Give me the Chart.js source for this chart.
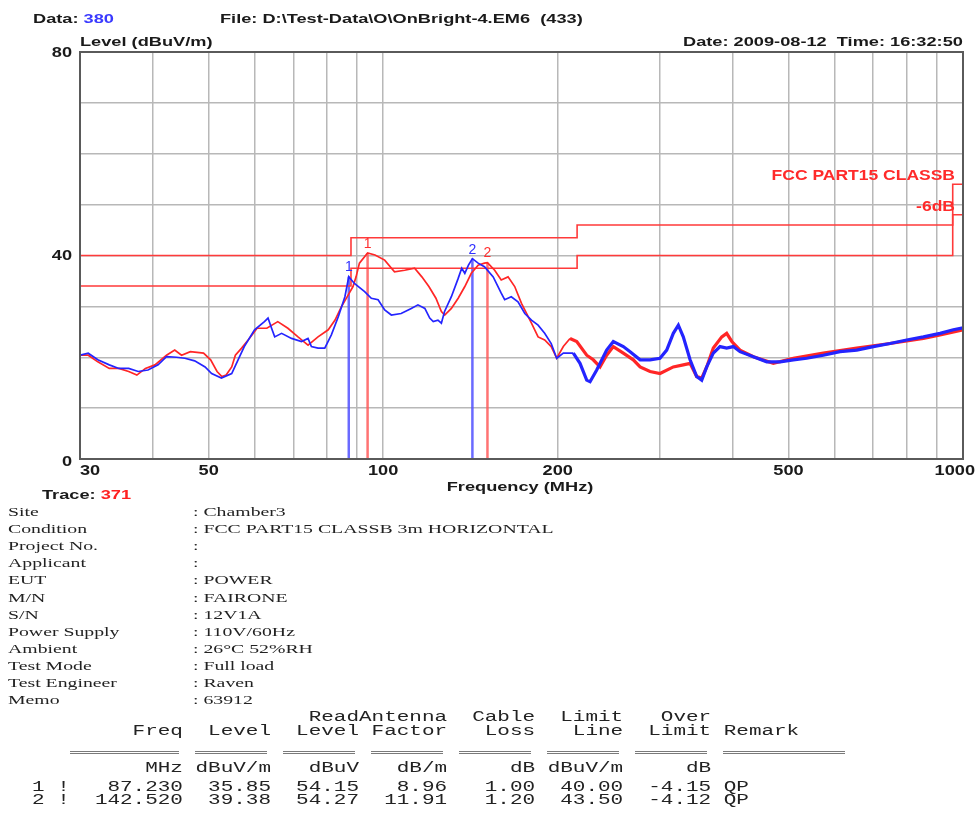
<!DOCTYPE html>
<html><head><meta charset="utf-8">
<script src="https://cdn.jsdelivr.net/npm/chart.js@4.4.1/dist/chart.umd.min.js"></script>
<style>
html,body{margin:0;padding:0;background:#fff;}
#page{position:relative;width:978px;height:813px;overflow:hidden;background:#fff;}
#cw{position:absolute;left:0;top:0;width:978px;height:813px;}
.t{position:absolute;white-space:pre;line-height:16px;height:16px;}
.hb{font:bold 13px "Liberation Sans",Arial,sans-serif;color:#1a1a1a;transform:scaleX(1.4);transform-origin:left center;}
.hr{font:bold 13px "Liberation Sans",Arial,sans-serif;color:#1a1a1a;transform:scaleX(1.4);transform-origin:right center;}
.hc{font:bold 13px "Liberation Sans",Arial,sans-serif;color:#1a1a1a;transform:translateX(-50%) scaleX(1.4);transform-origin:center center;}
.sf{font:13px "Liberation Serif","Times New Roman",serif;color:#222;transform:scaleX(1.52);transform-origin:left center;}
.mn{font:14px "Liberation Mono","Courier New",monospace;color:#222;transform:scaleX(1.497);transform-origin:left center;}
.ul{position:absolute;height:1px;border-top:1px solid #7a7a7a;border-bottom:1px solid #7a7a7a;}
</style></head>
<body>
<div id="page">
  <div id="cw"><canvas id="c"></canvas></div>
  <div class="t hb" style="left:33px;top:11px">Data: <span style="color:#3a3aff">380</span></div>
  <div class="t hb" style="left:220px;top:11px">File: D:\Test-Data\O\OnBright-4.EM6  (433)</div>
  <div class="t hb" style="left:80px;top:34px">Level (dBuV/m)</div>
  <div class="t hr" style="right:15px;top:34px">Date: 2009-08-12  Time: 16:32:50</div>
  <div class="t hc" style="left:520px;top:479px">Frequency (MHz)</div>
  <div class="t hb" style="left:42px;top:487px">Trace: <span style="color:#ff2020">371</span></div>
  <div id="info"></div>
  <div id="tbl"></div>
</div>
<script>
// ---- chart data ----
const xTickLabels = [30, 50, 100, 200, 500, 1000];
const yTickLabels = [0, 40, 80];
const gridFreqs = [30, 40, 50, 60, 70, 80, 90, 100, 200, 300, 400, 500, 600, 700, 800, 900, 1000];

const redFreq = [30.0, 31.0, 32.2, 33.7, 35.0, 36.4, 37.6, 38.9, 40.4, 42.3, 43.7, 44.9, 46.5, 49.0, 50.4, 51.7, 52.7, 53.6, 54.8, 55.6,
  57.0, 58.5, 60.6, 63.0, 65.8, 68.5, 71.3, 74.2, 77.2, 80.4, 82.6, 84.7, 87.0, 88.7, 89.8, 91.0, 94.0, 96.8, 100.6, 104.6,
  108.9, 113.3, 116.6, 119.9, 123.3, 126.0, 127.7, 131.1, 134.7, 138.3, 141.9, 145.8, 149.5, 151.3, 155.7, 159.8, 164.2, 168.6, 173.2, 180.2,
  185.0, 189.9, 194.9, 199.2, 204.5, 210.0, 215.7, 224.4, 230.3, 236.6, 242.9, 249.4, 259.5, 270.0, 277.4, 288.6, 300.2, 316.5, 329.3, 338.3,
  347.3, 354.3, 361.4, 371.0, 383.7, 391.2, 399.3, 412.5, 435.0, 470.9, 509.8, 574.2, 655.7, 748.4, 854.5, 912.9, 1000];
const redLevel = [20.4, 20.4, 19.1, 17.8, 17.8, 17.2, 16.5, 17.8, 18.5, 20.4, 21.4, 20.4, 21.1, 20.8, 19.5, 17.2, 16.2, 16.5, 18.1, 20.4,
  21.8, 23.4, 25.7, 25.7, 27.0, 25.7, 24.0, 22.4, 24.0, 25.4, 27.3, 29.9, 32.2, 33.9, 35.8, 38.5, 40.5, 40.1, 39.1, 36.8,
  37.1, 37.5, 35.8, 33.9, 31.6, 29.0, 28.3, 29.6, 31.6, 33.9, 36.5, 38.1, 38.5, 38.6, 37.1, 35.2, 35.8, 33.9, 30.6, 26.7,
  24.0, 23.4, 22.1, 19.8, 22.1, 23.7, 23.1, 20.4, 19.5, 18.1, 20.4, 22.1, 20.8, 19.5, 18.1, 17.2, 16.8, 18.1, 18.5, 18.8,
  16.2, 15.9, 18.1, 21.8, 24.0, 24.7, 23.1, 21.4, 20.1, 18.8, 19.8, 20.8, 21.8, 22.7, 23.7, 24.4, 25.4];

const blueFreq = [30.0, 31.0, 32.2, 33.7, 35.0, 36.4, 37.8, 39.3, 40.9, 42.3, 44.0, 45.5, 47.3, 49.3, 50.6, 52.6, 54.8, 56.2, 57.6, 60.0,
  62.4, 63.3, 64.2, 65.0, 66.8, 69.5, 72.3, 74.2, 75.2, 77.2, 79.3, 81.4, 83.7, 85.9, 87.23, 89.2, 92.9, 95.4, 98.0, 100.6,
  103.3, 107.4, 111.8, 114.8, 118.0, 120.3, 122.0, 124.3, 126.0, 127.6, 131.1, 134.7, 136.6, 138.3, 140.3, 142.52, 145.8, 149.5, 154.8, 159.8,
  162.0, 166.3, 170.8, 175.5, 180.2, 185.0, 189.9, 194.9, 199.2, 204.5, 212.8, 218.5, 224.4, 227.4, 233.5, 242.9, 249.4, 259.5, 266.6, 277.4,
  288.6, 300.2, 308.3, 316.5, 322.9, 329.3, 338.3, 347.3, 354.3, 361.4, 371.0, 381.0, 391.2, 401.7, 412.5, 435.0, 458.7, 483.6, 509.8, 537.6,
  574.2, 613.7, 655.7, 700.5, 748.4, 799.8, 854.5, 912.9, 962.4, 1000];
const blueLevel = [20.4, 20.8, 19.5, 18.5, 17.8, 17.8, 17.2, 17.5, 18.5, 20.1, 20.0, 19.8, 19.3, 18.1, 16.8, 15.9, 16.8, 19.5, 22.1, 25.4,
  27.0, 27.7, 25.7, 24.0, 24.7, 23.7, 23.1, 23.7, 22.1, 21.8, 21.8, 24.4, 28.0, 31.9, 35.85, 34.5, 32.9, 31.6, 31.3, 29.3,
  28.3, 28.6, 29.6, 30.3, 29.6, 27.7, 27.0, 27.3, 26.7, 29.0, 31.9, 35.5, 37.5, 36.5, 38.1, 39.38, 38.5, 37.8, 35.8, 32.6,
  31.3, 31.9, 30.9, 28.6, 27.3, 26.3, 24.7, 22.7, 19.8, 20.8, 20.8, 18.8, 15.5, 15.2, 17.5, 21.4, 23.1, 22.1, 21.1, 19.5,
  19.5, 19.8, 21.4, 24.7, 26.3, 24.0, 19.5, 16.2, 15.5, 18.1, 20.8, 22.1, 21.8, 22.1, 21.1, 20.1, 19.1, 19.1, 19.5, 19.8,
  20.4, 21.1, 21.4, 22.1, 22.7, 23.4, 24.0, 24.7, 25.4, 25.8];

const limitFreq = [30, 88, 88, 216, 216, 960, 960, 1000];
const limitLevel = [40, 40, 43.5, 43.5, 46, 46, 54, 54];
const marginLevel = [34, 34, 37.5, 37.5, 40, 40, 48, 48];

const blueMarkerFreq = [87.23, 142.52];
const blueMarkerLevel = [35.85, 39.38];
const redMarkerFreq = [94.0, 151.3];
const redMarkerLevel = [40.5, 38.6];
const markerNames = ["1", "2"];

// ---- report text data ----
const infoLabels = ["Site", "Condition", "Project No.", "Applicant", "EUT", "M/N", "S/N", "Power Supply", "Ambient", "Test Mode", "Test Engineer", "Memo"];
const infoValues = ["Chamber3", "FCC PART15 CLASSB 3m HORIZONTAL", "", "", "POWER", "FAIRONE", "12V1A", "110V/60Hz", "26\u00B0C 52%RH", "Full load", "Raven", "63912"];
const tblReadLevel = [54.15, 54.27];
const tblAntFactor = [8.96, 11.91];
const tblCableLoss = [1.00, 1.20];
const tblLimitLine = [40.00, 43.50];
const tblOverLimit = [-4.15, -4.12];
const tblRemark = ["QP", "QP"];

// ---- build report text ----
(function () {
  const info = document.getElementById('info');
  infoLabels.forEach((lab, i) => {
    const cy = 512 + i * 17.1;
    const a = document.createElement('div');
    a.className = 't sf'; a.style.left = '8px'; a.style.top = (cy - 8) + 'px'; a.textContent = lab;
    const b = document.createElement('div');
    b.className = 't sf'; b.style.left = '193px'; b.style.top = (cy - 8) + 'px';
    b.textContent = ':' + (infoValues[i] ? ' ' + infoValues[i] : '');
    info.appendChild(a); info.appendChild(b);
  });
  const tbl = document.getElementById('tbl');
  const x0 = 31.8, cw = 12.57;
  const pad = (s, n) => String(s).padStart(n, ' ');
  const lines = [
    [717, "                      ReadAntenna  Cable  Limit   Over"],
    [731, "        Freq  Level  Level Factor   Loss   Line  Limit Remark"],
    [768, "         MHz dBuV/m   dBuV   dB/m     dB dBuV/m     dB"]
  ];
  blueMarkerFreq.forEach((f, i) => {
    const s = markerNames[i] + ' !' + pad(f.toFixed(3), 9) + pad(blueMarkerLevel[i].toFixed(2), 7) +
      pad(tblReadLevel[i].toFixed(2), 7) + pad(tblAntFactor[i].toFixed(2), 7) + pad(tblCableLoss[i].toFixed(2), 7) +
      pad(tblLimitLine[i].toFixed(2), 7) + pad(tblOverLimit[i].toFixed(2), 7) + ' ' + tblRemark[i];
    lines.push([787 + i * 13, s]);
  });
  lines.forEach(([cy, s]) => {
    const d = document.createElement('div');
    d.className = 't mn'; d.style.left = x0 + 'px'; d.style.top = (cy - 8) + 'px'; d.textContent = s;
    tbl.appendChild(d);
  });
  const segs = [[3, 12], [13, 19], [20, 26], [27, 33], [34, 40], [41, 47], [48, 54], [55, 65]];
  segs.forEach(([a, b]) => {
    const d = document.createElement('div');
    d.className = 'ul';
    d.style.left = (x0 + a * cw) + 'px';
    d.style.width = ((b - a) * cw - 4) + 'px';
    d.style.top = '751px';
    tbl.appendChild(d);
  });
})();

// ---- chart ----
const pts = (xs, ys) => xs.map((x, i) => ({ x: x, y: ys[i] }));
const RED = '#ff2626', BLUE = '#2424ff', LIM = '#ff3a3a';

const markerSets = [];
blueMarkerFreq.forEach((f, i) => markerSets.push({
  data: [{ x: f, y: 0 }, { x: f, y: blueMarkerLevel[i] }], borderColor: 'rgba(80,80,255,0.85)', borderWidth: 2.5
}));
redMarkerFreq.forEach((f, i) => markerSets.push({
  data: [{ x: f, y: 0 }, { x: f, y: redMarkerLevel[i] }], borderColor: 'rgba(255,90,90,0.85)', borderWidth: 2.5
}));

const overlay = {
  id: 'overlay',
  afterDraw(chart) {
    const { ctx, chartArea: a, scales: { x, y } } = chart;
    ctx.save();
    ctx.strokeStyle = '#5a5a5a'; ctx.lineWidth = 2;
    ctx.strokeRect(a.left, a.top, a.right - a.left, a.bottom - a.top);

    const sx = 1.3;
    ctx.fillStyle = '#1a1a1a';
    ctx.font = 'bold 14px "Liberation Sans", Arial, sans-serif';
    ctx.textBaseline = 'middle';
    xTickLabels.forEach(v => {
      const s = String(v);
      const px = x.getPixelForValue(v);
      const w = ctx.measureText(s).width * sx;
      let left = px - w / 2;
      left = Math.max(a.left, Math.min(chart.width - 3 - w, left));
      ctx.save(); ctx.translate(left, a.bottom + 12); ctx.scale(sx, 1);
      ctx.textAlign = 'left'; ctx.fillText(s, 0, 0); ctx.restore();
    });
    yTickLabels.forEach(v => {
      const py = y.getPixelForValue(v) + (v === 0 ? 3 : 1);
      ctx.save(); ctx.translate(a.left - 8, py); ctx.scale(sx, 1);
      ctx.textAlign = 'right'; ctx.fillText(String(v), 0, 0); ctx.restore();
    });

    // marker numbers
    ctx.font = '14px "Liberation Sans", Arial, sans-serif';
    ctx.textAlign = 'center'; ctx.textBaseline = 'bottom';
    blueMarkerFreq.forEach((f, i) => {
      ctx.fillStyle = '#3030ff';
      ctx.fillText(markerNames[i], x.getPixelForValue(f), y.getPixelForValue(blueMarkerLevel[i]) - 2);
    });
    redMarkerFreq.forEach((f, i) => {
      ctx.fillStyle = '#ff3030';
      ctx.fillText(markerNames[i], x.getPixelForValue(f), y.getPixelForValue(redMarkerLevel[i]) - 2);
    });

    // limit labels
    ctx.fillStyle = '#ff2a2a';
    ctx.font = 'bold 14px "Liberation Sans", Arial, sans-serif';
    ctx.textBaseline = 'bottom';
    const rx = a.right - 8;
    [[ 'FCC PART15 CLASSB', limitLevel[limitLevel.length - 1] ], [ '-6dB', marginLevel[marginLevel.length - 1] ]].forEach(([s, lv]) => {
      ctx.save(); ctx.translate(rx, y.getPixelForValue(lv) - 1); ctx.scale(1.25, 1);
      ctx.textAlign = 'right'; ctx.fillText(s, 0, 0); ctx.restore();
    });
    ctx.restore();
  }
};

new Chart(document.getElementById('c'), {
  type: 'line',
  data: {
    datasets: [
      { data: pts(blueFreq, blueLevel), borderColor: BLUE, borderWidth: 1.7,
        segment: { borderWidth: c => (c.p0.parsed.x >= 210 ? 3.2 : 1.7) } },
      { data: pts(redFreq, redLevel), borderColor: RED, borderWidth: 1.7,
        segment: { borderWidth: c => (c.p0.parsed.x >= 210 ? 3.2 : 1.7) } },
      { data: pts(limitFreq, limitLevel), borderColor: LIM, borderWidth: 1.6 },
      { data: pts(limitFreq, marginLevel), borderColor: LIM, borderWidth: 1.6 },
      ...markerSets
    ]
  },
  options: {
    responsive: true, maintainAspectRatio: false, animation: false,
    parsing: true,
    elements: { point: { radius: 0 }, line: { tension: 0, fill: false } },
    layout: { padding: { left: 80, right: 15, top: 52, bottom: 354 } },
    plugins: { legend: { display: false }, tooltip: { enabled: false } },
    scales: {
      x: {
        type: 'logarithmic', min: 30, max: 1000,
        afterBuildTicks: s => { s.ticks = gridFreqs.map(v => ({ value: v })); },
        ticks: { display: false },
        grid: { color: '#b8b8b8', lineWidth: 1.5, drawTicks: false },
        border: { display: false },
        afterFit: s => { s.height = 0; }
      },
      y: {
        type: 'linear', min: 0, max: 80,
        ticks: { display: false, stepSize: 10 },
        grid: { color: '#b8b8b8', lineWidth: 1.5, drawTicks: false },
        border: { display: false },
        afterFit: s => { s.width = 0; }
      }
    }
  },
  plugins: [overlay]
});
</script>
</body></html>
